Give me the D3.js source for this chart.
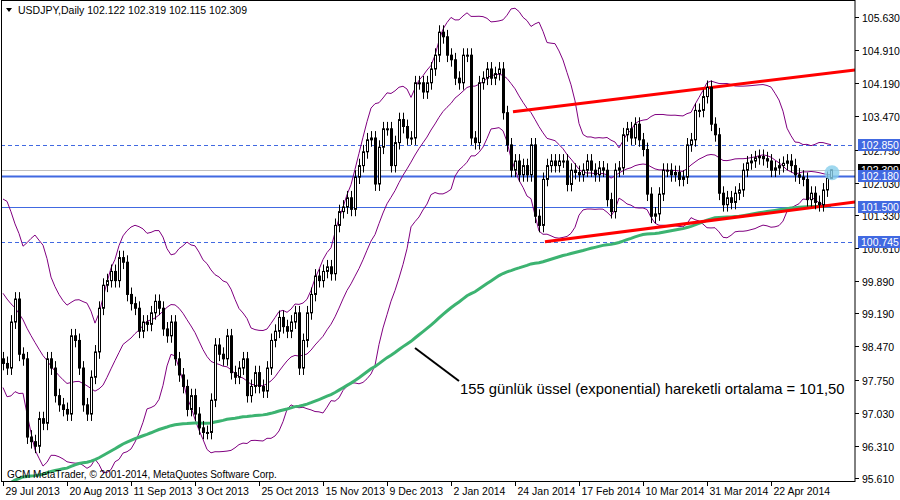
<!DOCTYPE html>
<html><head><meta charset="utf-8">
<script src="https://cdn.jsdelivr.net/npm/d3@7"></script>
<style>body{margin:0;background:#fff}svg{display:block}</style>
</head><body><svg id="c" width="900" height="500" font-family="Liberation Sans, Arial, sans-serif"></svg>
<script>
const priorCloses=[99.5,100.5,101.1,101.2,100.8,100.9,100.2,99.6,99.3,99.8,99.6,100.3,100.5,99.5,99.2,98.9,98.6,98.3,98.2,97.9];
const closes=[
98.1,98.0,99.0,99.5,98.3,98.2,96.5,96.4,96.3,96.9,
96.8,98.2,98.0,97.4,97.2,97.1,97.0,98.7,98.6,98.0,
97.2,97.0,97.8,98.35,99.3,99.8,99.9,100.1,99.9,100.4,
100.3,99.6,99.4,99.3,98.8,99.0,98.95,99.2,99.45,99.3,
98.85,98.7,99.0,98.2,97.85,97.6,97.1,97.4,97.0,96.7,
96.6,96.6,97.3,98.5,98.3,98.2,98.7,97.9,97.8,98.0,
98.2,97.4,97.6,97.9,97.6,97.5,98.0,98.6,98.8,99.1,
98.9,98.8,99.0,99.2,98.0,98.6,99.2,99.6,100.0,99.9,
100.1,100.2,100.05,101.1,101.4,101.5,101.7,101.45,102.15,102.4,
102.7,102.96,103.0,102.0,102.8,103.2,103.2,102.4,102.9,103.4,
103.25,103.0,103.0,104.2,104.2,104.0,104.2,104.5,104.8,105.3,
105.2,104.8,104.7,104.3,104.2,104.8,104.8,103.0,102.9,104.2,
104.3,104.5,104.3,104.4,104.5,103.55,102.85,102.3,102.5,102.2,
102.4,102.2,102.85,101.3,101.1,102.1,102.4,102.5,102.4,102.5,
102.5,101.99,102.3,102.25,102.2,102.3,102.5,102.3,102.2,102.35,
102.3,101.66,101.4,102.3,102.35,103.07,103.2,103.0,103.3,102.96,
102.75,101.78,101.3,101.35,101.78,102.3,102.3,102.2,102.25,102.1,
102.15,102.85,102.96,103.6,103.6,103.9,104.1,103.3,103.07,101.8,
101.55,101.7,101.6,101.8,101.87,102.3,102.46,102.5,102.57,102.6,
102.55,102.5,102.3,102.35,102.4,102.45,102.5,102.4,102.2,102.15,
102.1,101.66,101.8,101.6,101.55,101.87,102.122,102.309];
const firstOpen=98.2, lastHigh=102.319, lastLow=102.115;
const emaSeed=95.4, emaPeriod=155, bbPeriod=20, bbDev=2;
const dateLabels=["29 Jul 2013","20 Aug 2013","11 Sep 2013","3 Oct 2013","25 Oct 2013","15 Nov 2013","9 Dec 2013","2 Jan 2014","24 Jan 2014","17 Feb 2014","10 Mar 2014","31 Mar 2014","22 Apr 2014"];
const dateIdx=[0,16,32,48,64,80,96,112,128,144,160,176,192];
const yTicks=[105.630,104.910,104.190,103.470,102.750,102.030,101.330,100.610,99.890,99.190,98.470,97.750,97.030,96.310,95.610];
const levels=[{v:102.850,dash:true,w:1},{v:102.180,dash:false,w:2},{v:101.500,dash:false,w:1},{v:100.745,dash:true,w:1}];
const upperTrend=[[127.5,103.57],[213,104.48]];
const lowerTrend=[[135.5,100.745],[213,101.61]];
const annotation="155 günlük üssel (exponential) hareketli ortalama = 101,50";

const svg=d3.select("#c");
const x=d3.scaleLinear().domain([0,213]).range([3,855]);
const y=d3.scaleLinear().domain([95.61,105.63]).range([478,17]);
const candles=closes.map((c,i)=>{const o=i===0?firstOpen:closes[i-1];
  let h=Math.max(o,c)+0.15,l=Math.min(o,c)-0.15;
  if(i===closes.length-1){h=lastHigh;l=lastLow;}
  return {i,o,c,h,l};});
const all=priorCloses.concat(closes);
const bb=closes.map((c,i)=>{const k=i+priorCloses.length;const w=all.slice(k-bbPeriod+1,k+1);
  const m=d3.mean(w);const sd=Math.sqrt(d3.mean(w.map(v=>(v-m)**2)));return {i,m,u:m+bbDev*sd,l:m-bbDev*sd};});
let e=emaSeed;const a=2/(emaPeriod+1);
const ema=closes.map((c,i)=>{e=e+a*(c-e);return {i,v:e};});

svg.append("defs").append("clipPath").attr("id","pc").append("rect").attr("x",1).attr("y",1).attr("width",854).attr("height",480);
const g=svg.append("g").attr("clip-path","url(#pc)");
svg.append("rect").attr("x",1.5).attr("y",0.5).attr("width",853.5).attr("height",481).attr("fill","none").attr("stroke","#000");
const line=d3.line();
levels.forEach(L=>g.append("line").attr("x1",1).attr("x2",855).attr("y1",Math.round(y(L.v))+0.5).attr("y2",Math.round(y(L.v))+0.5)
  .attr("stroke","#4169e1").attr("stroke-width",L.w).attr("stroke-dasharray",L.dash?"4,3":null));
g.append("line").attr("x1",1).attr("x2",855).attr("y1",Math.round(y(closes[closes.length-1]))+0.5).attr("y2",Math.round(y(closes[closes.length-1]))+0.5).attr("stroke","#c0c0c0");
["u","m","l"].forEach(k=>g.append("path").attr("d",line(bb.map(d=>[x(d.i),y(d[k])]))).attr("fill","none").attr("stroke","#800080").attr("stroke-width",1));
g.append("path").attr("d",line(ema.map(d=>[x(d.i),y(d.v)]))).attr("fill","none").attr("stroke","#3cb371").attr("stroke-width",3);
[upperTrend,lowerTrend].forEach(t=>g.append("path").attr("d",line(t.map(p=>[x(p[0]),y(p[1])]))).attr("stroke","#ff0000").attr("stroke-width",3).attr("fill","none"));
const cg=g.selectAll("g.cd").data(candles).join("g");
cg.append("line").attr("x1",d=>Math.round(x(d.i))+0.5).attr("x2",d=>Math.round(x(d.i))+0.5).attr("y1",d=>y(d.h)).attr("y2",d=>y(d.l)).attr("stroke","#000");
cg.append("rect").attr("x",d=>Math.round(x(d.i))-0.5).attr("width",2).attr("y",d=>y(Math.max(d.o,d.c))).attr("height",d=>Math.max(1,y(Math.min(d.o,d.c))-y(Math.max(d.o,d.c))))
  .attr("fill",d=>d.c>=d.o?"#fff":"#000").attr("stroke","#000");
const lc=candles[candles.length-1];
g.append("circle").attr("cx",x(lc.i)+1).attr("cy",y(lc.c)+3).attr("r",7.5).attr("fill","#87ceeb").attr("opacity",0.8);
svg.append("line").attr("x1",415).attr("y1",348).attr("x2",459).attr("y2",381).attr("stroke","#000").attr("stroke-width",2);
svg.append("text").attr("x",460).attr("y",394).attr("font-size",14.8).text(annotation);
svg.append("text").attr("x",7).attr("y",478).attr("font-size",10).text("GCM MetaTrader, © 2001-2014, MetaQuotes Software Corp.");
svg.append("path").attr("d","M6,8 L12,8 L9,12 Z").attr("fill","#000");
svg.append("text").attr("x",18).attr("y",14).attr("font-size",10.5).text("USDJPY,Daily  102.122 102.319 102.115 102.309");
const ax=svg.append("g");
yTicks.forEach(v=>{const yy=Math.round(y(v))+0.5;
  ax.append("line").attr("x1",855).attr("x2",859).attr("y1",yy).attr("y2",yy).attr("stroke","#000");
  ax.append("text").attr("x",862).attr("y",yy+4).attr("font-size",10.5).text(v.toFixed(3));});
function tag(v,bg){const yy=Math.round(y(v));
  ax.append("rect").attr("x",858).attr("y",yy-6).attr("width",42).attr("height",12).attr("fill",bg);
  ax.append("text").attr("x",861).attr("y",yy+4).attr("font-size",10.5).attr("fill","#fff").text(v.toFixed(3));}
tag(closes[closes.length-1],"#000");
levels.forEach(L=>tag(L.v,"#4169e1"));
dateIdx.forEach((di,k)=>{const xx=Math.round(x(di))+0.5;
  svg.append("line").attr("x1",xx).attr("x2",xx).attr("y1",481).attr("y2",486).attr("stroke","#000");
  svg.append("text").attr("x",xx+2).attr("y",495).attr("font-size",10.5).text(dateLabels[k]);});
</script></body></html>
